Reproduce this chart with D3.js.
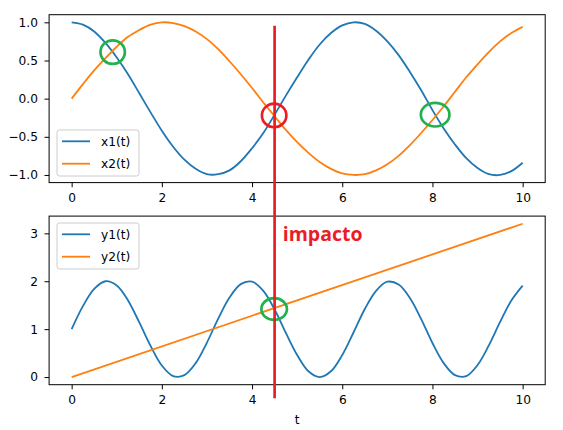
<html>
    <head>
        <meta charset="utf-8">
        <script src="https://d3js.org/d3.v7.min.js"></script>
        <style>
body { margin: 0; background: #fff; }
text { font-family: "DejaVu Sans", sans-serif; }
        </style>
    </head>
    <body>
        <div id="chart"></div>
        <script>
// sample times (step 0.25)
var tVals = [0, 0.25, 0.5, 0.75, 1, 1.25, 1.5, 1.75, 2, 2.25, 2.5, 2.75, 3, 3.25, 3.5, 3.75,
    4, 4.25, 4.5, 4.75, 5, 5.25, 5.5, 5.75, 6, 6.25, 6.5, 6.75, 7, 7.25, 7.5, 7.75,
    8, 8.25, 8.5, 8.75, 9, 9.25, 9.5, 9.75, 10];

// values
var x1 = [1.00, 0.97, 0.88, 0.73, 0.54, 0.32, 0.07, -0.18, -0.42, -0.63, -0.80, -0.92, -0.99, -0.99, -0.94, -0.82,
    -0.65, -0.45, -0.21, 0.04, 0.28, 0.51, 0.71, 0.86, 0.96, 1.00, 0.98, 0.89, 0.75, 0.57, 0.35, 0.11,
    -0.15, -0.39, -0.60, -0.78, -0.91, -0.99, -1.00, -0.95, -0.84];
var x2 = [0.00, 0.19, 0.37, 0.53, 0.68, 0.81, 0.90, 0.97, 1.00, 0.99, 0.95, 0.88, 0.78, 0.65, 0.49, 0.32,
    0.14, -0.05, -0.23, -0.41, -0.57, -0.71, -0.83, -0.92, -0.98, -1.00, -0.99, -0.94, -0.86, -0.75, -0.61, -0.45,
    -0.28, -0.10, 0.09, 0.28, 0.45, 0.61, 0.75, 0.86, 0.94];
var y1 = [1.00, 1.48, 1.84, 2.00, 1.91, 1.60, 1.14, 0.65, 0.24, 0.02, 0.04, 0.29, 0.72, 1.22, 1.66, 1.94,
    1.99, 1.80, 1.41, 0.92, 0.46, 0.12, 0.00, 0.12, 0.46, 0.93, 1.42, 1.80, 1.99, 1.93, 1.65, 1.21,
    0.71, 0.29, 0.04, 0.02, 0.25, 0.66, 1.15, 1.60, 1.91];
// straight line
var y2t = [0, 10];
var y2 = [0, 3.2];

var xTicks = [0, 2, 4, 6, 8, 10];
var topTicks = [-1.0, -0.5, 0.0, 0.5, 1.0];
var bottomTicks = [0, 1, 2, 3];

// annotations (drawn over the plot)
var greenTop = [[0.91, 0.61], [8.06, -0.21]];
var redTop = [[4.49, -0.22]];
var greenBottom = [[4.49, 1.42]];
var impactT = 4.5;
var labelText = "impacto";

var W = 563, H = 430;
var blue = "#1f77b4", orange = "#ff7f0e";
var paintRed = "#ed1c24", paintGreen = "#22b14c";

var svg = d3.select("#chart").append("svg")
    .attr("width", W).attr("height", H);

var x = d3.scaleLinear().domain([-0.5, 10.5]).range([49.1, 545.2]);
var yTop = d3.scaleLinear().domain([-1.1, 1.1]).range([182.6, 14.7]);
var yBot = d3.scaleLinear().domain([-0.16, 3.36]).range([384.7, 216.1]);

function drawPanel(y, ticks, fmt, series, legendY) {
    var g = svg.append("g");
    var top = y.range()[1], bottom = y.range()[0];

    var lineGen = d3.line()
        .x(function(d) { return x(d[0]); })
        .y(function(d) { return y(d[1]); })
        .curve(d3.curveCatmullRom);

    series.forEach(function(s) {
        g.append("path")
            .attr("d", lineGen(s.pts))
            .attr("fill", "none")
            .attr("stroke", s.color)
            .attr("stroke-width", 1.8);
    });

    // axes
    var xAxis = d3.axisBottom(x).tickValues(xTicks).tickSize(4.6).tickPadding(6)
        .tickFormat(d3.format("d"));
    var yAxis = d3.axisLeft(y).tickValues(ticks).tickSize(4.6).tickPadding(6.5)
        .tickFormat(fmt);

    var xa = g.append("g").attr("transform", "translate(0," + bottom + ")").call(xAxis);
    var ya = g.append("g").attr("transform", "translate(" + x.range()[0] + ",0)").call(yAxis);
    [xa, ya].forEach(function(a) {
        a.select(".domain").remove();
        a.selectAll("line").attr("stroke", "#000").attr("stroke-width", 1);
        a.selectAll("text").attr("font-size", "12.2px").attr("fill", "#000")
            .style("font-family", "DejaVu Sans");
    });

    g.append("rect")
        .attr("x", x.range()[0]).attr("y", top)
        .attr("width", x.range()[1] - x.range()[0]).attr("height", bottom - top)
        .attr("fill", "none").attr("stroke", "#000").attr("stroke-width", 1);

    // legend
    var lg = g.append("g").attr("transform", "translate(57," + (top + legendY) + ")");
    lg.append("rect")
        .attr("width", 82).attr("height", 46).attr("rx", 2.5)
        .attr("fill", "#fff").attr("fill-opacity", 0.8)
        .attr("stroke", "#ccc").attr("stroke-width", 1);
    series.forEach(function(s, i) {
        var cy = 11.3 + i * 22.4;
        lg.append("line").attr("x1", 5).attr("x2", 33).attr("y1", cy).attr("y2", cy)
            .attr("stroke", s.color).attr("stroke-width", 1.8);
        lg.append("text").attr("x", 44).attr("y", cy + 4.4)
            .attr("font-size", "12.2px").text(s.name);
    });
    return g;
}

drawPanel(yTop, topTicks, d3.format(".1f"), [
    { name: "x1(t)", color: blue, pts: tVals.map(function(t, i) { return [t, x1[i]]; }) },
    { name: "x2(t)", color: orange, pts: tVals.map(function(t, i) { return [t, x2[i]]; }) }
], 115.3);

drawPanel(yBot, bottomTicks, d3.format("d"), [
    { name: "y1(t)", color: blue, pts: tVals.map(function(t, i) { return [t, y1[i]]; }) },
    { name: "y2(t)", color: orange, pts: y2t.map(function(t, i) { return [t, y2[i]]; }) }
], 6.9);

svg.append("text")
    .attr("x", x(5)).attr("y", 424)
    .attr("text-anchor", "middle").attr("font-size", "12.2px")
    .text("t");

// annotations
var ann = svg.append("g");
function ellipses(data, y, color, rx, ry) {
    ann.selectAll(null).data(data).enter().append("ellipse")
        .attr("cx", function(d) { return x(d[0]); })
        .attr("cy", function(d) { return y(d[1]); })
        .attr("rx", function(d, i) { return rx[i] || rx[0]; })
        .attr("ry", ry)
        .attr("fill", "none").attr("stroke", color).attr("stroke-width", 2.7);
}
ellipses(greenTop, yTop, paintGreen, [12.2, 14.3], 11.8);
ellipses(redTop, yTop, paintRed, [12.2], 11.8);
ellipses(greenBottom, yBot, paintGreen, [12.8], 10.8);

ann.append("line")
    .attr("x1", x(impactT)).attr("x2", x(impactT))
    .attr("y1", yTop(0.955)).attr("y2", yBot(-0.445))
    .attr("stroke", paintRed).attr("stroke-width", 2.7);

ann.append("text")
    .attr("x", x(4.68)).attr("y", yBot(2.84))
    .attr("fill", paintRed).attr("font-weight", "bold")
    .attr("font-size", "19.5px")
    .style("font-family", "'Open Sans', sans-serif")
    .text(labelText);
        </script>
    </body>
</html>
